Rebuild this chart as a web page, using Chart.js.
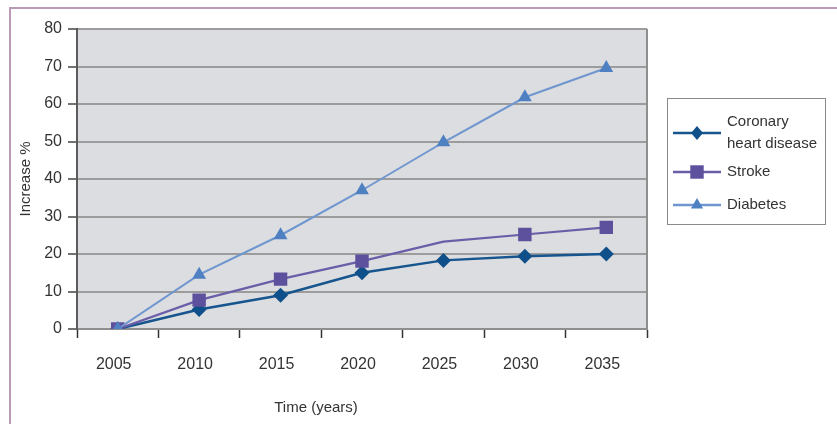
<!DOCTYPE html>
<html>
<head>
<meta charset="utf-8">
<script src="https://cdn.jsdelivr.net/npm/chart.js@4.4.1/dist/chart.umd.min.js"></script>
<style>
  html, body { margin: 0; padding: 0; background: #ffffff; }
  #wrap { position: relative; width: 837px; height: 424px; overflow: hidden; }
  #frame { position: absolute; left: 9px; top: 7px; width: 900px; height: 500px;
           border-left: 2px solid #b99ab7; border-top: 2px solid #b99ab7; }
  canvas { position: absolute; left: 0; top: 0; }
</style>
</head>
<body>
<div id="wrap">
  <div id="frame"></div>
  <canvas id="c" width="837" height="424"></canvas>
</div>
<script>
// Projected increase (%) in disease burden, by year
const years = ['2005', '2010', '2015', '2020', '2025', '2030', '2035'];
const coronary = [0, 5.2, 9, 15, 18.3, 19.4, 20];
const stroke = [0, 7.7, 13.3, 18.1, 23.3, 25.2, 27.1];
const diabetes = [0, 14.5, 25, 37, 49.8, 61.8, 69.6];
const yTicks = [0, 10, 20, 30, 40, 50, 60, 70, 80];
const xTitle = 'Time (years)';

const FONT = '"Liberation Sans", Arial, sans-serif';

// grey plot background plus right-hand frame of the plot area
const plotBackground = {
  id: 'plotBackground',
  beforeDraw(chart) {
    const { ctx, chartArea: a } = chart;
    ctx.save();
    ctx.fillStyle = '#dcdde0';
    ctx.fillRect(a.left, a.top, a.right - a.left, a.bottom - a.top);
    ctx.restore();
  },
  afterDatasetsDraw(chart) {
    const { ctx, chartArea: a } = chart;
    ctx.save();
    ctx.strokeStyle = '#8e8e8e';
    ctx.lineWidth = 2;
    ctx.beginPath();
    ctx.moveTo(a.right, a.top);
    ctx.lineTo(a.right, a.bottom);
    ctx.stroke();
    ctx.restore();
  }
};

// x-axis caption, set a little left of the plot centre
const xCaption = {
  id: 'xCaption',
  afterDraw(chart) {
    const { ctx } = chart;
    ctx.save();
    ctx.font = '15px ' + FONT;
    ctx.fillStyle = '#333';
    ctx.textAlign = 'center';
    ctx.textBaseline = 'middle';
    ctx.fillText(xTitle, 316, 408);
    ctx.restore();
  }
};

function marker(ctx, style, x, y, r, color) {
  ctx.fillStyle = color;
  ctx.beginPath();
  if (style === 'rectRot') {
    ctx.moveTo(x, y - r); ctx.lineTo(x + r * 0.85, y); ctx.lineTo(x, y + r); ctx.lineTo(x - r * 0.85, y);
  } else if (style === 'rect') {
    const s = r * Math.SQRT1_2;
    ctx.rect(x - s, y - s, 2 * s, 2 * s);
  } else {
    ctx.moveTo(x, y - r); ctx.lineTo(x + r * 0.87, y + r * 0.5); ctx.lineTo(x - r * 0.87, y + r * 0.5);
  }
  ctx.closePath();
  ctx.fill();
}

// boxed legend to the right of the plot
const sideLegend = {
  id: 'sideLegend',
  afterDraw(chart) {
    const { ctx } = chart;
    const box = { x: 667, y: 98, w: 158, h: 126 };
    ctx.save();
    ctx.fillStyle = '#ffffff';
    ctx.fillRect(box.x, box.y, box.w, box.h);
    ctx.strokeStyle = '#8a8a8a';
    ctx.lineWidth = 1;
    ctx.strokeRect(box.x + 0.5, box.y + 0.5, box.w, box.h);
    const rows = [133, 172, 205];
    ctx.font = '15px ' + FONT;
    ctx.textBaseline = 'middle';
    chart.data.datasets.forEach((ds, i) => {
      const y = rows[i];
      ctx.strokeStyle = ds.borderColor;
      ctx.lineWidth = 2.5;
      ctx.beginPath();
      ctx.moveTo(673, y);
      ctx.lineTo(721, y);
      ctx.stroke();
      marker(ctx, ds.pointStyle, 697, y, ds.legendMarker, ds.pointBackgroundColor);
      ctx.fillStyle = '#333';
      const lines = Array.isArray(ds.label) ? ds.label : [ds.label];
      const lh = 22;
      lines.forEach((t, k) => {
        ctx.fillText(t, 727, y + (k - (lines.length - 1) / 2) * lh);
      });
    });
    ctx.restore();
  }
};

new Chart(document.getElementById('c'), {
  type: 'line',
  data: {
    labels: years,
    datasets: [
      {
        label: ['Coronary', 'heart disease'],
        data: coronary,
        borderColor: '#17558f',
        backgroundColor: '#17558f',
        pointBackgroundColor: '#0f4f8a',
        pointBorderWidth: 0,
        pointStyle: 'rectRot',
        pointRadius: 7.5,
        legendMarker: 7,
        borderWidth: 2.5,
        tension: 0,
        order: 2
      },
      {
        label: 'Stroke',
        data: stroke,
        borderColor: '#6a5ea8',
        backgroundColor: '#5d519d',
        pointBackgroundColor: '#5d519d',
        pointBorderWidth: 0,
        pointStyle: 'rect',
        pointRadius: [9.5, 9.5, 9.5, 9.5, 0, 9.5, 9.5],
        legendMarker: 9.5,
        borderWidth: 2.2,
        tension: 0,
        order: 1
      },
      {
        label: 'Diabetes',
        data: diabetes,
        borderColor: '#6f96cf',
        backgroundColor: '#4f80c2',
        pointBackgroundColor: '#4f80c2',
        pointBorderWidth: 0,
        pointStyle: 'triangle',
        pointRadius: 8,
        legendMarker: 7,
        borderWidth: 2,
        tension: 0,
        order: 0
      }
    ]
  },
  options: {
    responsive: false,
    animation: false,
    layout: { padding: { left: 0, top: 29, right: 190, bottom: 0 } },
    plugins: { legend: { display: false }, tooltip: { enabled: false } },
    scales: {
      x: {
        type: 'category',
        offset: true,
        afterFit(s) { s.height = 95; },
        grid: { offset: true, drawOnChartArea: false, tickLength: 9, tickColor: '#333', tickWidth: 1.5 },
        border: { color: '#8e8e8e', width: 2 },
        ticks: { color: '#333', font: { family: FONT, size: 16 }, padding: 17, maxRotation: 0, labelOffset: -4 },
        title: { display: false }
      },
      y: {
        min: 0,
        max: 80,
        afterFit(s) { s.width = 77; },
        afterBuildTicks(s) { s.ticks = yTicks.map(v => ({ value: v })); },
        grid: { color: '#9c9c9c', lineWidth: 2, tickLength: 9, tickColor: '#444', tickWidth: 1.5 },
        border: { color: '#5c5c5c', width: 2 },
        ticks: { color: '#333', font: { family: FONT, size: 16 }, padding: 6 },
        title: { display: true, text: 'Increase %', color: '#333', font: { family: FONT, size: 15 }, padding: { top: 17, bottom: 6 } }
      }
    }
  },
  plugins: [plotBackground, xCaption, sideLegend]
});
</script>
</body>
</html>
